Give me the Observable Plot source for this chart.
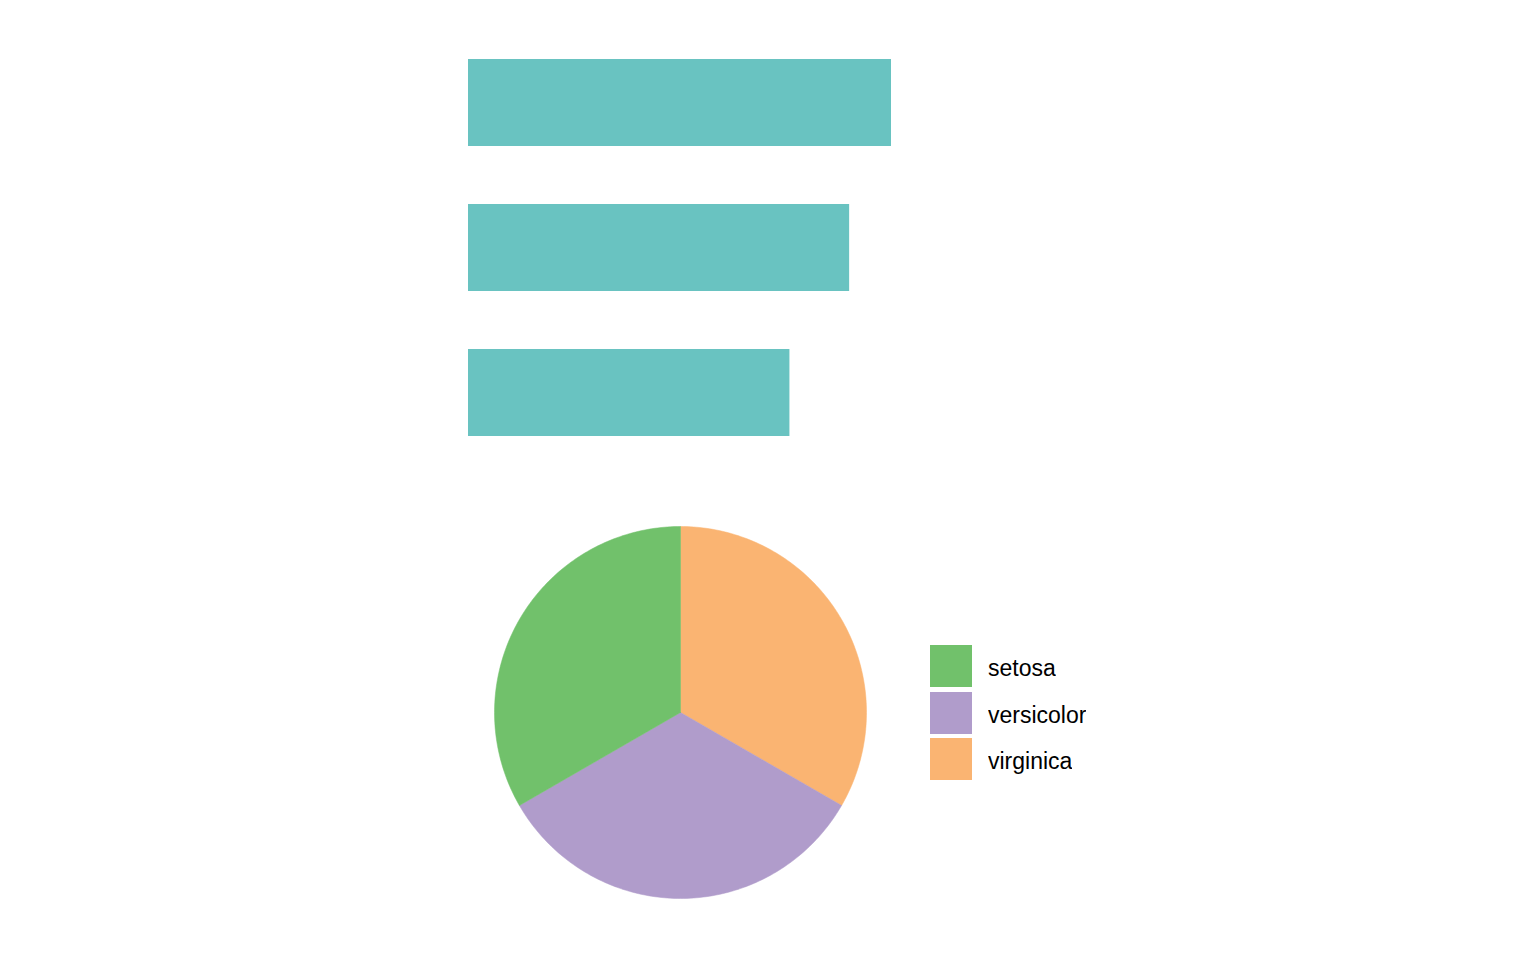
<!DOCTYPE html>
<html>
<head>
<meta charset="utf-8">
<script src="https://cdn.jsdelivr.net/npm/d3@7"></script>
<script src="https://cdn.jsdelivr.net/npm/@observablehq/plot@0.6"></script>
<style>
  html, body { margin: 0; padding: 0; background: #fff; }
  #wrap { position: relative; width: 1536px; height: 960px; overflow: hidden; }
  #wrap svg { display: block; }
  #legend { position: absolute; left: 930px; top: 645px; }
  #legend .leg-swatches { font-family: "Liberation Sans", Arial, sans-serif !important; font-size: 23px !important; margin: 0 !important; color: #000; }
  #legend .leg-swatch { padding-bottom: 0.5px !important; display: flex; align-items: flex-start !important; line-height: 46px; }
  #legend .leg-swatch svg { margin-right: 16px !important; }
</style>
</head>
<body>
<div id="wrap"></div>
<script>
// Data (iris)
const species = ["setosa", "versicolor", "virginica"];
const meanSepalLength = [5.006, 5.936, 6.588];
const counts = [50, 50, 50];
const barOrder = ["virginica", "versicolor", "setosa"];
const pieOrder = ["virginica", "versicolor", "setosa"]; // clockwise from 12 o'clock
const speciesColors = ["#71C16B", "#B09CCB", "#FAB472"];
const barColor = "#69C3C1";

const barData = species.map((s, i) => ({species: s, value: meanSepalLength[i]}));

const wrap = document.getElementById("wrap");

const bars = Plot.plot({
  width: 1536,
  height: 495,
  marginLeft: 468,
  marginRight: 645,
  marginTop: 0,
  marginBottom: 0,
  x: {domain: [0, d3.max(meanSepalLength)], axis: null},
  y: {domain: barOrder, padding: 0.4, axis: null},
  marks: [
    Plot.barX(barData, {x: "value", y: "species", fill: barColor})
  ]
});
wrap.appendChild(bars);

// Pie slices from d3.pie angles
const pieInput = pieOrder.map(s => ({species: s, n: counts[species.indexOf(s)]}));
const arcs = d3.pie().sort(null).value(d => d.n)(pieInput);
const slicePts = [];
for (const a of arcs) {
  const sp = a.data.species;
  slicePts.push({species: sp, x: 0, y: 0});
  const steps = 120;
  for (let k = 0; k <= steps; k++) {
    const t = a.startAngle + (a.endAngle - a.startAngle) * k / steps;
    slicePts.push({species: sp, x: Math.sin(t), y: Math.cos(t)});
  }
  slicePts.push({species: sp, x: 0, y: 0});
}

const pie = Plot.plot({
  width: 1536,
  height: 465,
  marginLeft: 494,
  marginRight: 670,
  marginTop: 31,
  marginBottom: 62,
  x: {domain: [-1, 1], axis: null},
  y: {domain: [-1, 1], axis: null},
  color: {domain: species, range: speciesColors},
  marks: [
    Plot.line(slicePts, {x: "x", y: "y", z: "species", fill: "species", stroke: "species", strokeWidth: 0.5})
  ]
});
wrap.appendChild(pie);

const legendDiv = document.createElement("div");
legendDiv.id = "legend";
legendDiv.appendChild(pie.legend("color", {legend: "swatches", columns: 1, swatchSize: 42, className: "leg"}));
wrap.appendChild(legendDiv);
</script>
</body>
</html>
